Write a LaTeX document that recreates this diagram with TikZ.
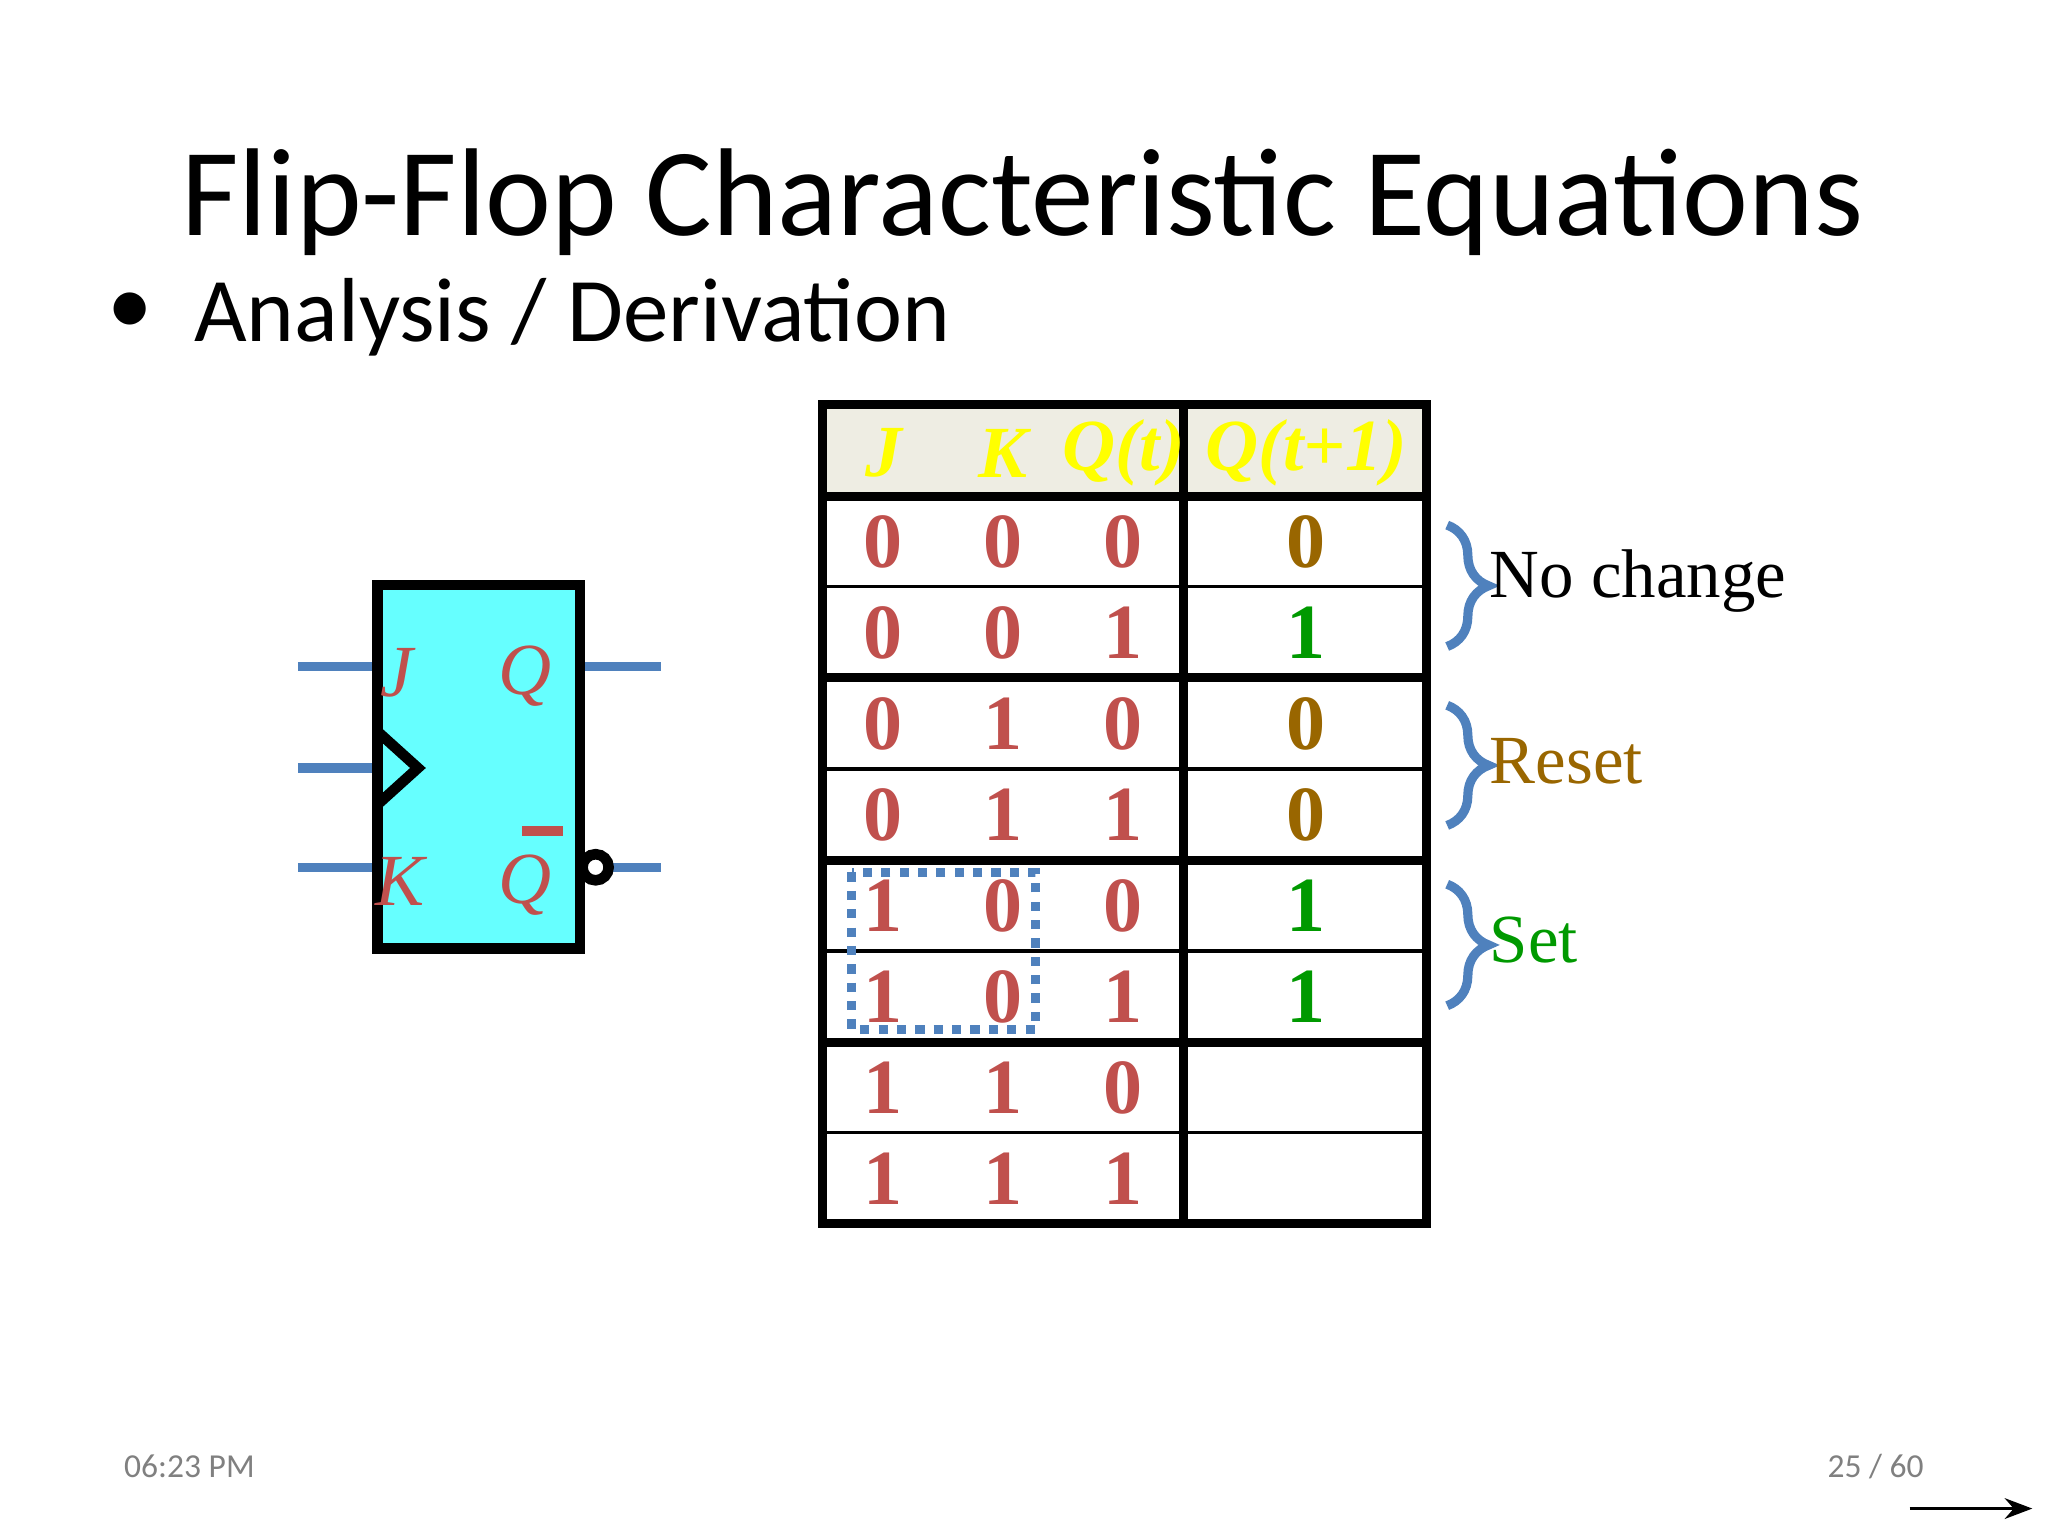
\documentclass[tikz,border=0pt]{standalone}
\usepackage{fontspec}
\setmainfont{Liberation Serif}
\newfontfamily\carlitofont{Carlito}
\usetikzlibrary{decorations.pathreplacing,arrows.meta}
\definecolor{cred}{HTML}{C0504D}
\definecolor{cbrown}{HTML}{996600}
\definecolor{cgreen}{HTML}{009900}
\definecolor{cblue}{HTML}{4F81BD}
\definecolor{chead}{HTML}{EEEDE3}
\definecolor{cyel}{HTML}{FFFF00}
\definecolor{ccyan}{HTML}{66FFFF}
\begin{document}
\begin{tikzpicture}[x=0.01cm,y=-0.01cm,
  dig/.style={font=\fontsize{17}{17}\selectfont\bfseries,inner sep=0},
  hd/.style={font=\fontsize{16}{16}\selectfont\bfseries\itshape,text=cyel,inner sep=0},
  thick1/.style={line width=2pt},
  thin1/.style={line width=0.8pt},
  wire/.style={cblue,line width=2pt},
  lab/.style={font=\fontsize{16}{16}\selectfont\itshape,text=cred,inner sep=0},
  br/.style={cblue,line width=2pt,decorate,decoration={brace,amplitude=9pt}},
  side/.style={font=\fontsize{15}{15}\selectfont,anchor=west,inner sep=0}]
\useasboundingbox (0,0) rectangle (1568,1176);
\node[font=\carlitofont\fontsize{27.2}{28}\selectfont] (title) at (783,155) {Flip-Flop Characteristic Equations};
\node[font=\carlitofont\fontsize{19.8}{20}\selectfont] (dot) at (100,240) {\textbullet};
\node[font=\carlitofont\fontsize{19.8}{20}\selectfont,anchor=west,inner sep=0] (bul) at (148,243) {Analysis / Derivation};
% table
\fill[chead] (630,310) rectangle (1092,380);
\foreach \y in {449,589,728,867} \draw[thin1] (630,\y) -- (1092,\y);
\foreach \y in {380,519,659,798} \draw[thick1] (630,\y) -- (1092,\y);
\draw[thick1] (630,310) rectangle (1092,937);
\draw[thick1] (906,310) -- (906,937);
\node[hd] (hJ) at (677,347) {J};
\node[hd] (hK) at (768,347) {K};
\node[hd] (hQ) at (860,347) {Q(t)};
\node[hd] (hQn) at (1000,347) {Q(t+1)};
\foreach \a/\b/\c/\d/\col [count=\i] in {0/0/0/0/cbrown,0/0/1/1/cgreen,0/1/0/0/cbrown,0/1/1/0/cbrown,1/0/0/1/cgreen,1/0/1/1/cgreen,1/1/0//black,1/1/1//black}{
  \pgfmathsetmacro\yy{380+69.6*(\i-1)+35}
  \node[dig,text=cred] (a\i) at (676,\yy) {\a};
  \node[dig,text=cred] (b\i) at (768,\yy) {\b};
  \node[dig,text=cred] (c\i) at (860,\yy) {\c};
  \node[dig,text=\col] (d\i) at (1000,\yy) {\d};
}
\draw[cblue,line width=2pt,dotted] (652,668) rectangle (793,788);
\draw[br] (1108,402) -- (1108,495);
\draw[br] (1108,540) -- (1108,632);
\draw[br] (1108,677) -- (1108,770);
\node[side] (nc) at (1140,445) {No change};
\node[side,text=cbrown] (rs) at (1140,583) {Reset};
\node[side,text=cgreen] (st) at (1140,720) {Set};
% flip-flop
\draw[wire] (228,510) -- (289,510);
\draw[wire] (228,588) -- (289,588);
\draw[wire] (228,664) -- (289,664);
\draw[wire] (444,510) -- (506,510);
\draw[wire] (466,664) -- (506,664);
\draw[fill=ccyan,line width=2.3pt] (289,448) rectangle (444,726);
\draw[line width=2.3pt] (289,560) -- (320,588) -- (289,616);
\draw[line width=2.3pt,fill=white] (456,664) circle (10);
\node[lab] (lJ) at (304,515) {J};
\node[lab] (lQ) at (402,518) {Q};
\node[lab] (lK) at (306,675) {K};
\node[lab] (lQb) at (402,678) {Q};
\draw[cred,line width=2.2pt] (400,636) -- (431,636);
% footer
\node[font=\carlitofont\fontsize{7.3}{8}\selectfont,text=gray] (tm) at (145,1123) {06:23 PM};
\node[font=\carlitofont\fontsize{7.3}{8}\selectfont,text=gray] (pg) at (1436,1123) {25 / 60};
\coordinate (ar1) at (1462,1155);
\coordinate (ar2) at (1556,1155);
\draw[-{Stealth[length=6pt]},line width=0.8pt] (ar1) -- (ar2);
\end{tikzpicture}
\end{document}
